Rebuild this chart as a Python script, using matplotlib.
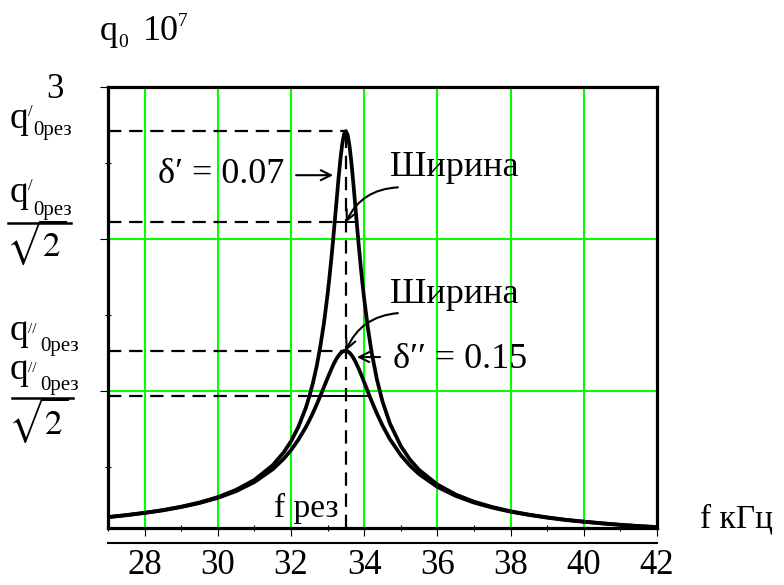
import numpy as np
import matplotlib.pyplot as plt
from matplotlib.ticker import MultipleLocator

plt.rcParams['font.family'] = ['Liberation Serif', 'DejaVu Serif']
plt.rcParams['mathtext.fontset'] = 'stix'

# resonance curves (q0 * 1e7 vs f, kHz)
freq = [27, 27.5, 28, 28.5, 29, 29.5, 30, 30.5, 31, 31.5, 31.8, 32, 32.2, 32.4,
        32.5, 32.6, 32.7, 32.8, 32.9, 33, 33.05, 33.1, 33.15, 33.2, 33.25, 33.3,
        33.35, 33.4, 33.45, 33.5, 33.55, 33.6, 33.65, 33.7, 33.75, 33.8, 33.85,
        33.9, 33.95, 34, 34.1, 34.2, 34.35, 34.5, 34.7, 35, 35.25, 35.5, 36,
        36.5, 37, 37.5, 38, 38.5, 39, 39.5, 40, 40.5, 41, 41.5, 42]
q_narrow = [0.172, 0.185, 0.200, 0.218, 0.240, 0.268, 0.303, 0.351, 0.416, 0.513,
            0.597, 0.670, 0.764, 0.887, 0.964, 1.055, 1.162, 1.292, 1.447, 1.638,
            1.747, 1.866, 1.993, 2.128, 2.266, 2.402, 2.525, 2.625, 2.690, 2.710,
            2.682, 2.610, 2.504, 2.376, 2.238, 2.098, 1.961, 1.832, 1.714, 1.606,
            1.416, 1.259, 1.074, 0.932, 0.789, 0.639, 0.550, 0.482, 0.386, 0.320,
            0.273, 0.238, 0.210, 0.188, 0.170, 0.154, 0.142, 0.131, 0.121, 0.113,
            0.106]
q_wide = [0.171, 0.184, 0.199, 0.216, 0.238, 0.264, 0.298, 0.342, 0.402, 0.486,
          0.555, 0.612, 0.680, 0.761, 0.807, 0.857, 0.911, 0.968, 1.027, 1.086,
          1.115, 1.143, 1.170, 1.194, 1.216, 1.234, 1.249, 1.259, 1.264, 1.265,
          1.261, 1.252, 1.238, 1.220, 1.199, 1.174, 1.148, 1.119, 1.090, 1.059,
          0.997, 0.936, 0.851, 0.774, 0.685, 0.579, 0.510, 0.454, 0.370, 0.311,
          0.267, 0.234, 0.207, 0.186, 0.168, 0.153, 0.141, 0.130, 0.121, 0.112,
          0.105]

f_res = 33.5
peaks = [2.71, 1.265]
half_levels = [2.11, 0.967]
widths = [(33.2, 33.8), (32.45, 34.1)]
x_ticks = [28, 30, 32, 34, 36, 38, 40, 42]
green_x = [28, 30, 32, 34, 36, 38, 40]
green_y = [1, 2]

W, H = 784, 585
fig = plt.figure(figsize=(W / 100, H / 100), dpi=100)
ax = fig.add_axes([108 / W, 1 - 528 / H, (657 - 108) / W, (528 - 87) / H])
ax.set_xlim(27, 42)
ax.set_ylim(0.1, 3)

def ftxt(x, y, s, **kw):
    fig.text(x / W, 1 - y / H, s, **kw)

green = '#00ff00'
for gx in green_x:
    ax.axvline(gx, color=green, lw=1.5, zorder=1)
for gy in green_y:
    ax.axhline(gy, color=green, lw=1.5, zorder=1)

ax.plot(freq, q_narrow, color='k', lw=2.7, zorder=3)
ax.plot(freq, q_wide, color='k', lw=2.7, zorder=3)

dash = (6, 3.5)
xmin = ax.get_xlim()[0]
for p in peaks:
    ax.plot([xmin, f_res], [p, p], color='k', lw=1.6, dashes=dash, zorder=2)
ax.plot([f_res, f_res], [0.1, peaks[0]], color='k', lw=1.6, dashes=dash, zorder=2)
for lev, (a, b) in zip(half_levels, widths):
    ax.plot([xmin, a], [lev, lev], color='k', lw=1.6, dashes=dash, zorder=2)
    ax.plot([a, b], [lev, lev], color='k', lw=1.4, zorder=2)

# axis line below the box
ax.plot([27, 42], [0, 0], color='k', lw=1.5, clip_on=False)

for s in ax.spines.values():
    s.set_linewidth(2.3)

ax.xaxis.set_major_locator(MultipleLocator(2))
ax.xaxis.set_minor_locator(MultipleLocator(1))
ax.yaxis.set_major_locator(MultipleLocator(1))
ax.yaxis.set_minor_locator(MultipleLocator(0.5))
ax.tick_params(which='major', direction='out', length=6, width=0.8)
ax.tick_params(which='minor', direction='inout', length=5, width=0.8)
ax.set_xticks(x_ticks)
ax.set_xticklabels([str(t) for t in x_ticks], fontsize=25)
ax.tick_params(axis='x', which='major', pad=9)
ax.set_yticklabels([])

# labels outside the box
ftxt(55, 98, '3', fontsize=25, ha='center', va='baseline')
ftxt(100, 40, 'q', fontsize=26, va='baseline')
ftxt(118, 47, '0', fontsize=14, va='baseline')
ftxt(143, 40, '10', fontsize=26, va='baseline')
ftxt(178, 26, '7', fontsize=14, va='baseline')

ftxt(10, 128, 'q', fontsize=27, va='baseline')
ftxt(28, 116, '/', fontsize=12, va='baseline')
ftxt(33, 135, '0рез', fontsize=15, va='baseline')

ftxt(10, 202, 'q', fontsize=27, va='baseline')
ftxt(28, 190, '/', fontsize=12, va='baseline')
ftxt(33, 215, '0рез', fontsize=15, va='baseline')
fig.add_artist(plt.Line2D([8 / W, 71 / W], [1 - 223 / H, 1 - 223 / H], color='k', lw=1.8))
ftxt(36, 256, r'$\sqrt{2}$', fontsize=25, ha='center', va='baseline')

ftxt(10, 340, 'q', fontsize=27, va='baseline')
ftxt(28, 333, '//', fontsize=11, va='baseline')
ftxt(40, 351, '0рез', fontsize=15, va='baseline')

ftxt(10, 379, 'q', fontsize=27, va='baseline')
ftxt(28, 372, '//', fontsize=11, va='baseline')
ftxt(40, 390, '0рез', fontsize=15, va='baseline')
fig.add_artist(plt.Line2D([12 / W, 73 / W], [1 - 398 / H, 1 - 398 / H], color='k', lw=1.8))
ftxt(38, 434, r'$\sqrt{2}$', fontsize=25, ha='center', va='baseline')

ftxt(339, 517, 'f рез', fontsize=24, ha='right', va='baseline')
ftxt(700, 527, 'f кГц', fontsize=24, va='baseline')

# annotations inside the box
ftxt(158, 183, 'δ′ = 0.07', fontsize=26, va='baseline')
ftxt(390, 176, 'Ширина', fontsize=26, va='baseline')
ftxt(390, 303, 'Ширина', fontsize=26, va='baseline')
ftxt(393, 368, 'δ′′ = 0.15', fontsize=26, va='baseline')

arr = dict(arrowstyle='->', color='k', lw=1.5, shrinkA=0, shrinkB=0, mutation_scale=18)
ax.annotate('', xy=(33.15, 2.42), xytext=(32.14, 2.42), arrowprops=arr)
ax.annotate('', xy=(33.8, 1.224), xytext=(34.43, 1.224), arrowprops=arr)
ax.annotate('', xy=(f_res, half_levels[0]), xytext=(34.92, 2.34),
            arrowprops=dict(arr, connectionstyle='arc3,rad=0.3'))
ax.annotate('', xy=(f_res, peaks[1]), xytext=(34.92, 1.513),
            arrowprops=dict(arr, connectionstyle='arc3,rad=0.3'))

fig.savefig('out.png', dpi=100)
